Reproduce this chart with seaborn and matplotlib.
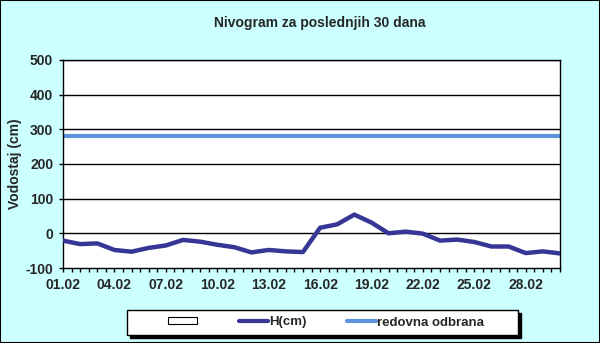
import matplotlib
matplotlib.use("Agg")
import matplotlib.pyplot as plt
import seaborn as sns
import pandas as pd
import numpy as np
from matplotlib.patches import Rectangle
from matplotlib.lines import Line2D

# Daily water level readings (cm)
dates = ["01.02", "02.02", "03.02", "04.02", "05.02", "06.02", "07.02", "08.02",
         "09.02", "10.02", "11.02", "12.02", "13.02", "14.02", "15.02", "16.02",
         "17.02", "18.02", "19.02", "20.02", "21.02", "22.02", "23.02", "24.02",
         "25.02", "26.02", "27.02", "28.02", "01.03", "02.03"]
level_cm = [-21, -31, -29, -48, -53, -42, -35, -19, -24, -33, -40, -55, -48, -52,
            -54, 16, 26, 54, 31, 0, 5, -1, -21, -18, -25, -38, -38, -57, -52, -58]
defence_level = 280
y_ticks = [-100, 0, 100, 200, 300, 400, 500]

bg = "#ccffff"
h_color = "#363696"
def_color = "#5b93dc"

sns.set_theme(style="white")
plt.rcParams["font.family"] = ["Liberation Sans", "DejaVu Sans"]
plt.rcParams["font.weight"] = "bold"

W, H = 600, 343
fs = 10
df = pd.DataFrame({"day": np.arange(len(dates)), "level": level_cm})

fig = plt.figure(figsize=(W / 100, H / 100), dpi=100, facecolor=bg)
ax = fig.add_axes([63 / W, 1 - 268 / H, (560 - 63) / W, (268 - 60) / H])
ax.set_facecolor("white")

for t in y_ticks[1:]:
    ax.axhline(t, color="black", lw=1.0, zorder=1)

ax.axhline(defence_level, color=def_color, lw=3.0, zorder=2)
sns.lineplot(data=df, x="day", y="level", ax=ax, color=h_color, lw=3.2, zorder=3)

ax.set_xlim(0, len(dates) - 1)
ax.set_ylim(-100, 500)
ax.set_yticks(y_ticks)
ax.set_yticklabels([str(t) for t in y_ticks], fontsize=fs, fontweight="bold")
major = list(range(0, len(dates), 3))
ax.set_xticks(major)
ax.set_xticklabels([dates[i] for i in major], fontsize=fs, fontweight="bold")
ax.set_xticks(np.arange(0, len(dates) - 0.5, 0.5), minor=True)
ax.tick_params(axis="both", which="both", direction="out", length=3, width=1,
               color="black", left=True, bottom=True, pad=4)
ax.set_xlabel("")
ax.set_ylabel("Vodostaj (cm)", fontsize=fs, fontweight="bold")
ax.yaxis.set_label_coords(-0.082, 0.5)
for s in ax.spines.values():
    s.set_visible(True)
    s.set_color("black")
    s.set_linewidth(1.0)

fig.text(320 / W, 1 - 22.5 / H, "Nivogram za poslednjih 30 dana", fontsize=fs,
         fontweight="bold", ha="center", va="center")

# Legend box with a solid drop shadow
bx0, bx1, by0, by1 = 127, 518, 310, 335
fig.add_artist(Rectangle(((bx0 + 3) / W, 1 - (by1 + 3) / H), (bx1 - bx0) / W,
                         (by1 - by0) / H, transform=fig.transFigure,
                         facecolor="black", edgecolor="black", zorder=5))
fig.add_artist(Rectangle((bx0 / W, 1 - by1 / H), (bx1 - bx0) / W, (by1 - by0) / H,
                         transform=fig.transFigure, facecolor="white",
                         edgecolor="black", lw=1.0, zorder=6))

handles = [Rectangle((0, 0), 1, 1, facecolor="white", edgecolor="black", lw=0.8),
           Line2D([], [], color=h_color, lw=3),
           Line2D([], [], color=def_color, lw=3)]
labels = ["", "H(cm)", "redovna odbrana"]
leg = fig.legend(handles, labels, loc="center",
                 bbox_to_anchor=(326 / W, 1 - 322.5 / H),
                 ncol=3, frameon=False, prop={"size": 9.5, "weight": "bold"},
                 handlelength=2.2, handleheight=0.45, handletextpad=0.05,
                 columnspacing=3.1, borderpad=0, borderaxespad=0)
leg.set_zorder(7)

fig.add_artist(Rectangle((0, 0), 1, 1, transform=fig.transFigure, fill=False,
                         edgecolor="black", lw=1.5))

fig.savefig("out.png", dpi=100, facecolor=bg)
